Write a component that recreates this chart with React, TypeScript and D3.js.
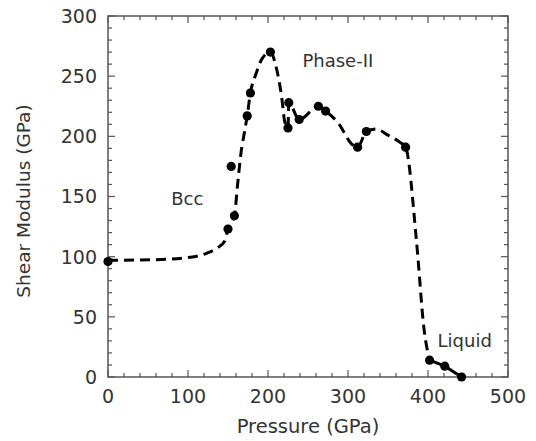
import React from "react";
import * as d3 from "d3";

// Measured data points (Pressure GPa, Shear modulus GPa)
const pressure = [0, 150, 154, 158, 174, 178, 203, 225, 226, 239, 263, 272, 312, 323, 372, 402, 421, 442];
const shear = [96, 123, 175, 134, 217, 236, 270, 207, 228, 214, 225, 221, 191, 204, 191, 14, 9, 0];

// Dashed guide curve
const curveP = [0, 60, 103, 124, 136, 146, 150, 158, 162, 166, 171, 174, 178, 185, 193, 203, 210, 217, 221, 225, 226, 239, 263, 272, 289, 304, 312, 323, 335, 350, 365, 372, 386, 395, 402];
const curveG = [97, 97.5, 99.5, 103, 107, 113, 123, 134, 160, 185, 205, 217, 236, 252, 265, 270, 258, 233, 212, 207, 228, 214, 225, 221, 210, 194, 191, 204, 206, 201, 195, 191, 110, 40, 14];

// Liquid solid segment
const liquidP = [402, 421, 442];
const liquidG = [14, 9, 0];

const xTicks = [0, 100, 200, 300, 400, 500];
const yTicks = [0, 50, 100, 150, 200, 250, 300];

const labels = [
  { text: "Bcc", p: 79, g: 143 },
  { text: "Phase-II", p: 243, g: 258 },
  { text: "Liquid", p: 412, g: 25 },
];

const W = 536, H = 441;
const M = { left: 108, right: 28, top: 16, bottom: 64 };
const FONT = "'DejaVu Sans', sans-serif";
const TXT = "#333";
const AX = "#555";

export default function App() {
  const x = d3.scaleLinear().domain([0, 500]).range([M.left, W - M.right]);
  const y = d3.scaleLinear().domain([0, 300]).range([H - M.bottom, M.top]);
  const [x0, x1] = x.range();
  const [y0, y1] = y.range();

  const line = d3
    .line<number>()
    .x((_, i) => x(curveP[i]))
    .y((_, i) => y(curveG[i]))
    .curve(d3.curveMonotoneX);
  const liquidLine = d3
    .line<number>()
    .x((_, i) => x(liquidP[i]))
    .y((_, i) => y(liquidG[i]));

  const xMinor = d3.range(0, 501, 20);
  const yMinor = d3.range(0, 301, 10);
  const MAJ = 7, MIN = 4;

  return (
    <svg width={W} height={H} style={{ position: "absolute", left: 0, top: 0, background: "#fff" }}>
      {/* frame */}
      <rect x={x0} y={y1} width={x1 - x0} height={y0 - y1} fill="none" stroke={AX} strokeWidth={1.5} />
      {xMinor.map((v) => {
        const len = v % 100 === 0 ? MAJ : MIN;
        return (
          <g key={"xt" + v} stroke={AX} strokeWidth={1.2}>
            <line x1={x(v)} x2={x(v)} y1={y0} y2={y0 - len} />
            <line x1={x(v)} x2={x(v)} y1={y1} y2={y1 + len} />
          </g>
        );
      })}
      {yMinor.map((v) => {
        const len = v % 50 === 0 ? MAJ : MIN;
        return (
          <g key={"yt" + v} stroke={AX} strokeWidth={1.2}>
            <line x1={x0} x2={x0 + len} y1={y(v)} y2={y(v)} />
            <line x1={x1} x2={x1 - len} y1={y(v)} y2={y(v)} />
          </g>
        );
      })}
      {xTicks.map((v) => (
        <text key={"xl" + v} x={x(v)} y={y0 + 26} textAnchor="middle" fontFamily={FONT} fontSize={19} fill={TXT}>
          {v}
        </text>
      ))}
      {yTicks.map((v) => (
        <text key={"yl" + v} x={x0 - 11} y={y(v)} dy="0.36em" textAnchor="end" fontFamily={FONT} fontSize={19} fill={TXT}>
          {v}
        </text>
      ))}
      <text x={(x0 + x1) / 2} y={433} textAnchor="middle" fontFamily={FONT} fontSize={19.5} fill={TXT}>
        Pressure (GPa)
      </text>
      <text
        transform={`translate(30,201) rotate(-90)`}
        textAnchor="middle"
        fontFamily={FONT}
        fontSize={18.5}
        fill={TXT}
      >
        Shear Modulus (GPa)
      </text>
      <path d={line(curveP) || ""} fill="none" stroke="#000" strokeWidth={3} strokeDasharray="10,6" />
      <path d={liquidLine(liquidP) || ""} fill="none" stroke="#000" strokeWidth={3} />
      {pressure.map((p, i) => (
        <circle key={"pt" + i} cx={x(p)} cy={y(shear[i])} r={4.6} fill="#000" />
      ))}
      {labels.map((l) => (
        <text key={l.text} x={x(l.p)} y={y(l.g)} fontFamily={FONT} fontSize={18} fill={TXT}>
          {l.text}
        </text>
      ))}
    </svg>
  );
}
